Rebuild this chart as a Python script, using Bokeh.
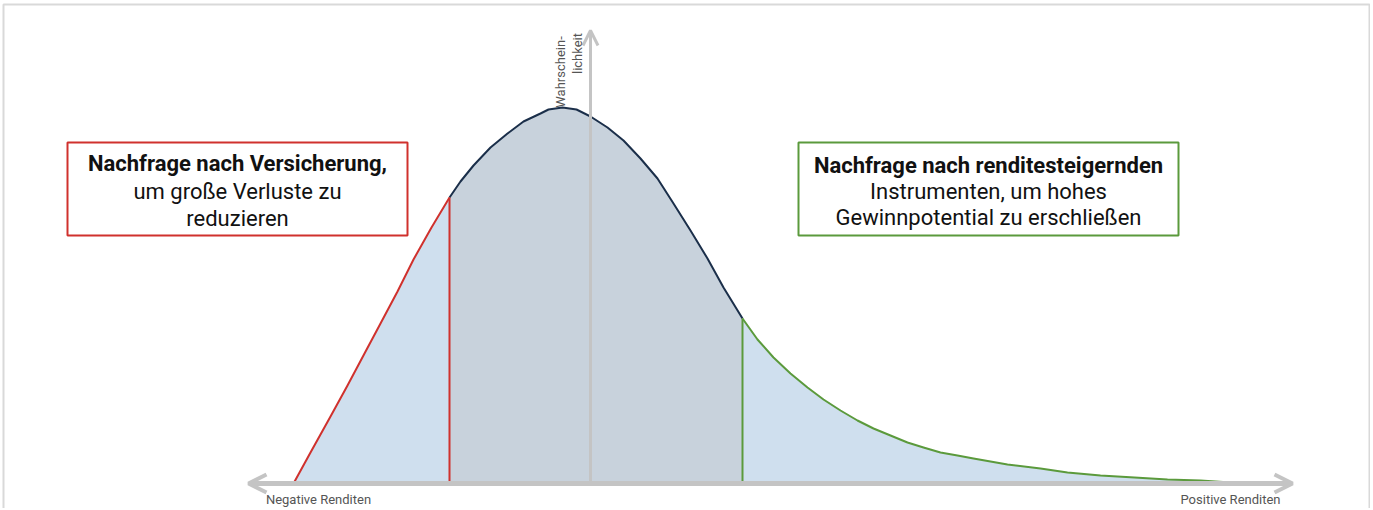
import numpy as np
from bokeh.plotting import figure
from bokeh.models import Range1d, Arrow, OpenHead, Label
from bokeh.embed import file_html
from bokeh.resources import INLINE

# ---- data ----
returns = [-14.85, -14.0, -13.0, -12.15, -11.3, -10.5, -9.65, -8.85, -7.95, -7.05,
           -6.5, -5.85, -5.0, -4.15, -3.35, -2.5, -2.1, -1.4, -0.7, 0.0, 0.85, 1.65,
           2.5, 3.35, 4.15, 5.0, 5.85, 6.65, 7.6,
           8.35, 9.15, 10.0, 10.85, 11.65, 12.5, 13.35, 14.15, 15.0, 15.85, 16.65,
           17.5, 18.35, 19.15, 20.85, 22.5, 23.85, 25.5, 27.2, 28.85, 30.5, 32.0]
density = [0.000, 0.031, 0.067, 0.098, 0.130, 0.160, 0.192, 0.224, 0.256, 0.286,
           0.302, 0.318, 0.336, 0.350, 0.362, 0.370, 0.374, 0.376, 0.374, 0.367, 0.356, 0.343,
           0.325, 0.305, 0.280, 0.253, 0.225, 0.196, 0.165,
           0.144, 0.126, 0.110, 0.096, 0.084, 0.073, 0.063, 0.055, 0.048, 0.041, 0.036,
           0.031, 0.028, 0.025, 0.019, 0.015, 0.011, 0.008, 0.006, 0.004, 0.003, 0.001]
cut_low = -7.05
cut_high = 7.6

left_title = "Nachfrage nach Versicherung,"
left_lines = ["um große Verluste zu", "reduzieren"]
right_title = "Nachfrage nach renditesteigernden"
right_lines = ["Instrumenten, um hohes", "Gewinnpotential zu erschließen"]
x_neg_label = "Negative Renditen"
x_pos_label = "Positive Renditen"
y_label = ["Wahrschein-", "lichkeit"]

# ---- styles ----
RED = "#d0312d"
GREEN = "#5b9a3c"
NAVY = "#1b2f4a"
TAIL_FILL = "#cfdfee"
MID_FILL = "#c8d2dc"
AXIS = "#c4c4c4"
FONT = "Roboto"

x = np.array(returns)
y = np.array(density)
lo = x <= cut_low + 1e-9
hi = x >= cut_high - 1e-9
mid = (x >= cut_low - 1e-9) & (x <= cut_high + 1e-9)

p = figure(width=1370, height=508, output_backend="svg", toolbar_location=None,
           x_range=Range1d(-29.5, 39.0), y_range=Range1d(-0.025, 0.483),
           min_border=0)
p.axis.visible = False
p.grid.visible = False
p.outline_line_color = None
p.background_fill_color = "white"
p.border_fill_color = "white"

# outer frame
p.quad(left=[-29.35], right=[38.95], bottom=[-0.1], top=[0.479],
       fill_color=None, line_color="#d9d9d9", line_width=2)

# fills
p.varea(x=x[lo], y1=0, y2=y[lo], fill_color=TAIL_FILL)
p.varea(x=x[mid], y1=0, y2=y[mid], fill_color=MID_FILL)
p.varea(x=x[hi], y1=0, y2=y[hi], fill_color=TAIL_FILL)

# axes (arrows)
p.add_layout(Arrow(start=OpenHead(size=18, line_color=AXIS, line_width=4),
                   end=OpenHead(size=18, line_color=AXIS, line_width=4),
                   x_start=-17.1, y_start=0, x_end=35.1, y_end=0,
                   line_color=AXIS, line_width=5))
p.add_layout(Arrow(end=OpenHead(size=15, line_color=AXIS, line_width=3),
                   x_start=0, y_start=0, x_end=0, y_end=0.453,
                   line_color=AXIS, line_width=3))

# curve segments
p.line(x[lo], y[lo], line_color=RED, line_width=2, line_join="round")
p.line(x[mid], y[mid], line_color=NAVY, line_width=2, line_join="round")
p.line(x[hi], y[hi], line_color=GREEN, line_width=2, line_join="round")

# cut-off verticals
y_low = float(np.interp(cut_low, x, y))
y_high = float(np.interp(cut_high, x, y))
p.segment(x0=[cut_low], y0=[0], x1=[cut_low], y1=[y_low], line_color=RED, line_width=2)
p.segment(x0=[cut_high], y0=[0], x1=[cut_high], y1=[y_high], line_color=GREEN, line_width=2)

# boxes
p.quad(left=[-26.15], right=[-9.15], bottom=[0.248], top=[0.341],
       fill_color="white", line_color=RED, line_width=2)
p.quad(left=[10.4], right=[29.4], bottom=[0.248], top=[0.341],
       fill_color="white", line_color=GREEN, line_width=2)

def box_text(cx, ys, title, lines):
    p.add_layout(Label(x=cx, y=ys[0], text=title, text_font=FONT, text_font_size="22px",
                       text_font_style="bold", text_align="center", text_baseline="middle",
                       text_color="#111111"))
    for yy, t in zip(ys[1:], lines):
        p.add_layout(Label(x=cx, y=yy, text=t, text_font=FONT, text_font_size="22px",
                           text_align="center", text_baseline="middle", text_color="#111111"))

box_text(-17.65, [0.320, 0.292, 0.265], left_title, left_lines)
box_text(19.9, [0.318, 0.292, 0.266], right_title, right_lines)

# axis labels
p.add_layout(Label(x=-13.6, y=-0.016, text=x_neg_label, text_font=FONT, text_font_size="13px",
                   text_align="center", text_baseline="middle", text_color="#555555"))
p.add_layout(Label(x=32.0, y=-0.016, text=x_pos_label, text_font=FONT, text_font_size="13px",
                   text_align="center", text_baseline="middle", text_color="#555555"))
p.add_layout(Label(x=-1.5, y=0.4115, text=y_label[0], text_font=FONT, text_font_size="13px",
                   angle=np.pi / 2, text_align="center", text_baseline="middle", text_color="#555555"))
p.add_layout(Label(x=-0.65, y=0.430, text=y_label[1], text_font=FONT, text_font_size="13px",
                   angle=np.pi / 2, text_align="center", text_baseline="middle", text_color="#555555"))

open("out.html", "w").write(file_html(p, INLINE))
